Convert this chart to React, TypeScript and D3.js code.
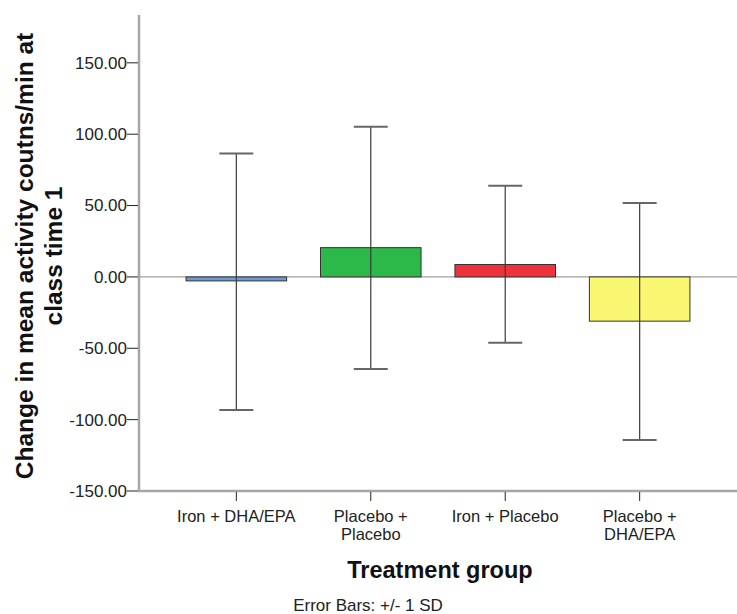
import React from 'react';
import * as d3 from 'd3';

// values
const categories = ['Iron + DHA/EPA', 'Placebo + Placebo', 'Iron + Placebo', 'Placebo + DHA/EPA'];
const categoryLines = [['Iron + DHA/EPA'], ['Placebo +', 'Placebo'], ['Iron + Placebo'], ['Placebo +', 'DHA/EPA']];
const means = [-2.8, 20.5, 8.7, -31.0];
const upper = [86.5, 105.2, 63.8, 51.8];
const lower = [-93.3, -64.5, -46.2, -114.2];
const barColors = ['#6b9bd2', '#2db84a', '#f0333b', '#f9f672'];
const yTicks = [-150, -100, -50, 0, 50, 100, 150];
const yDomain = [-150, 183.5];

const W = 737;
const H = 614;
const margin = { top: 15, right: 0, bottom: 123, left: 139 };

export default function App() {
  const innerW = W - margin.left - margin.right;
  const innerH = H - margin.top - margin.bottom;

  const x = d3
    .scaleBand()
    .domain(categories)
    .range([0, innerW])
    .paddingInner(0.252)
    .paddingOuter(0.35);

  const y = d3.scaleLinear().domain(yDomain).range([innerH, 0]);
  // SPSS prints a plain hyphen, not the unicode minus d3 uses
  const fmt = (v: number) => d3.format('.2f')(v).replace('\u2212', '-');
  const capHalf = 17;
  const font = 'Arial, "Liberation Sans", sans-serif';

  return (
    <svg
      width={W}
      height={H}
      style={{ position: 'absolute', left: 0, top: 0, background: '#fff' }}
      fontFamily={font}
    >
      <g transform={`translate(${margin.left},${margin.top})`}>
        {/* zero reference line */}
        <line x1={0} x2={innerW} y1={y(0)} y2={y(0)} stroke="#8a8a8a" strokeWidth={1} />

        {/* bars */}
        {categories.map((c, i) => (
          <rect
            key={c}
            x={x(c)}
            width={x.bandwidth()}
            y={y(Math.max(0, means[i]))}
            height={Math.abs(y(means[i]) - y(0))}
            fill={barColors[i]}
            stroke="#333"
            strokeWidth={1}
          />
        ))}

        {/* error bars */}
        {categories.map((c, i) => {
          const cx = (x(c) ?? 0) + x.bandwidth() / 2;
          return (
            <g key={c} stroke="#3a3a3a" strokeWidth={1.2}>
              <line x1={cx} x2={cx} y1={y(upper[i])} y2={y(lower[i])} />
              <line x1={cx - capHalf} x2={cx + capHalf} y1={y(upper[i])} y2={y(upper[i])} stroke="#666" strokeWidth={2} />
              <line x1={cx - capHalf} x2={cx + capHalf} y1={y(lower[i])} y2={y(lower[i])} stroke="#666" strokeWidth={2} />
            </g>
          );
        })}

        {/* y axis */}
        <line x1={0} x2={0} y1={0} y2={innerH} stroke="#a6a6a6" strokeWidth={2.5} />
        {yTicks.map((t) => (
          <g key={t} transform={`translate(0,${y(t)})`}>
            <line x1={-12} x2={-1} stroke="#222" strokeWidth={1} />
            <text x={-12} dy="0.35em" textAnchor="end" fontSize={17} fill="#222">
              {fmt(t)}
            </text>
          </g>
        ))}

        {/* x axis */}
        <line x1={-1} x2={innerW} y1={innerH} y2={innerH} stroke="#a6a6a6" strokeWidth={2.5} />
        {categories.map((c, i) => {
          const cx = (x(c) ?? 0) + x.bandwidth() / 2;
          return (
            <g key={c} transform={`translate(${cx},${innerH})`}>
              <line y1={1} y2={10} stroke="#222" strokeWidth={1} />
              {categoryLines[i].map((ln, j) => (
                <text key={j} y={31 + j * 17.5} textAnchor="middle" fontSize={16.5} fill="#222">
                  {ln}
                </text>
              ))}
            </g>
          );
        })}
      </g>

      {/* axis titles */}
      <g transform="translate(0,256) rotate(-90)" fontWeight="bold" fontSize={24.5} fill="#111" textAnchor="middle">
        <text x={0} y={33}>Change in mean activity coutns/min at</text>
        <text x={0} y={62}>class time 1</text>
      </g>
      <text x={440} y={578} textAnchor="middle" fontWeight="bold" fontSize={23.5} fill="#111">
        Treatment group
      </text>
      <text x={368} y={611} textAnchor="middle" fontSize={17} fill="#222">
        Error Bars: +/- 1 SD
      </text>
    </svg>
  );
}
